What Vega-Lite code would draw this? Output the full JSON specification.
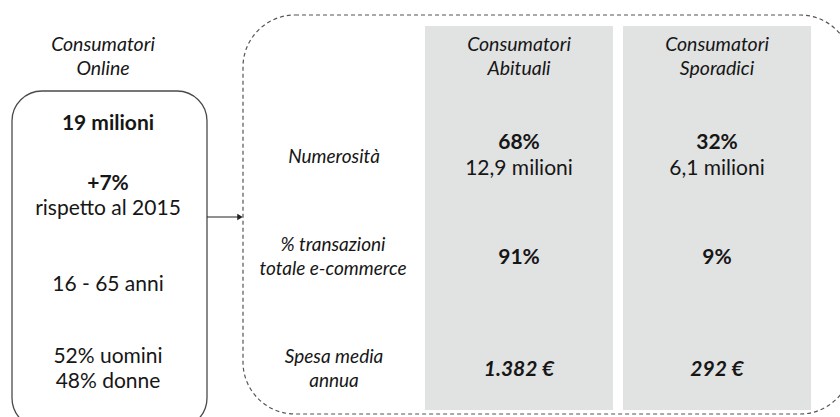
{
  "$schema": "https://vega.github.io/schema/vega-lite/v6.json",
  "width": 840,
  "height": 417,
  "autosize": {"type": "fit", "contains": "padding"},
  "padding": 0,
  "background": "white",
  "view": {"stroke": null},
  "datasets": {
    "panels": [
      {"name": "Abituali", "x1": 425, "x2": 613, "y1": 26, "y2": 410},
      {"name": "Sporadici", "x1": 623, "x2": 811, "y1": 26, "y2": 410}
    ],
    "solidBox": [{"name": "Online", "x1": 12, "x2": 207, "y1": 91, "y2": 428}],
    "dashBox": [{"name": "Segmenti", "x1": 243, "x2": 852, "y1": 15, "y2": 414}],
    "arrow": [{"x1": 207, "x2": 240, "y": 217}],
    "italic": [
      {"x": 103, "y": 45, "t": "Consumatori"},
      {"x": 103, "y": 69, "t": "Online"},
      {"x": 519, "y": 45, "t": "Consumatori"},
      {"x": 519, "y": 69, "t": "Abituali"},
      {"x": 717, "y": 45, "t": "Consumatori"},
      {"x": 717, "y": 69, "t": "Sporadici"}
    ],
    "labels": [
      {"x": 334, "y": 157, "t": "Numerosità"},
      {"x": 333, "y": 245, "t": "% transazioni"},
      {"x": 333, "y": 269, "t": "totale e-commerce"},
      {"x": 334, "y": 357, "t": "Spesa media"},
      {"x": 334, "y": 381, "t": "annua"}
    ],
    "bold": [
      {"x": 108, "y": 124, "t": "19 milioni"},
      {"x": 108, "y": 184, "t": "+7%"},
      {"x": 519, "y": 143, "t": "68%"},
      {"x": 717, "y": 143, "t": "32%"},
      {"x": 519, "y": 258, "t": "91%"},
      {"x": 717, "y": 258, "t": "9%"}
    ],
    "regular": [
      {"x": 108, "y": 209, "t": "rispetto al 2015"},
      {"x": 108, "y": 285, "t": "16 - 65 anni"},
      {"x": 108, "y": 357, "t": "52% uomini"},
      {"x": 108, "y": 382, "t": "48% donne"},
      {"x": 519, "y": 169, "t": "12,9 milioni"},
      {"x": 717, "y": 169, "t": "6,1 milioni"}
    ],
    "boldItalic": [
      {"x": 519, "y": 370, "t": "1.382 €"},
      {"x": 717, "y": 370, "t": "292 €"}
    ]
  },
  "resolve": {"scale": {"x": "shared", "y": "shared"}},
  "layer": [
    {
      "data": {"name": "panels"},
      "mark": {"type": "rect", "color": "#e1e2e2"},
      "encoding": {
        "x": {"field": "x1", "type": "quantitative", "scale": {"domain": [0, 840], "nice": false, "zero": false}, "axis": null},
        "x2": {"field": "x2"},
        "y": {"field": "y1", "type": "quantitative", "scale": {"domain": [0, 417], "nice": false, "zero": false, "reverse": true}, "axis": null},
        "y2": {"field": "y2"}
      }
    },
    {
      "data": {"name": "solidBox"},
      "mark": {"type": "rect", "fill": null, "stroke": "#4a4a4a", "strokeWidth": 1.3, "cornerRadius": 30, "clip": true},
      "encoding": {
        "x": {"field": "x1", "type": "quantitative"},
        "x2": {"field": "x2"},
        "y": {"field": "y1", "type": "quantitative"},
        "y2": {"field": "y2"}
      }
    },
    {
      "data": {"name": "dashBox"},
      "mark": {"type": "rect", "fill": null, "stroke": "#555555", "strokeWidth": 1.2, "strokeDash": [4, 3], "cornerRadius": 52, "clip": true},
      "encoding": {
        "x": {"field": "x1", "type": "quantitative"},
        "x2": {"field": "x2"},
        "y": {"field": "y1", "type": "quantitative"},
        "y2": {"field": "y2"}
      }
    },
    {
      "data": {"name": "arrow"},
      "mark": {"type": "rule", "color": "#222222", "strokeWidth": 1.2},
      "encoding": {
        "x": {"field": "x1", "type": "quantitative"},
        "x2": {"field": "x2"},
        "y": {"field": "y", "type": "quantitative"}
      }
    },
    {
      "data": {"name": "arrow"},
      "mark": {"type": "point", "shape": "triangle-right", "filled": true, "color": "#222222", "size": 40, "opacity": 1},
      "encoding": {
        "x": {"field": "x2", "type": "quantitative"},
        "y": {"field": "y", "type": "quantitative"}
      }
    },
    {
      "data": {"name": "italic"},
      "mark": {"type": "text", "font": "Lato", "fontSize": 19.5, "fontStyle": "italic", "color": "#161616", "baseline": "middle", "align": "center"},
      "encoding": {
        "x": {"field": "x", "type": "quantitative"},
        "y": {"field": "y", "type": "quantitative"},
        "text": {"field": "t"}
      }
    },
    {
      "data": {"name": "labels"},
      "mark": {"type": "text", "font": "Lato", "fontSize": 19, "fontStyle": "italic", "color": "#161616", "baseline": "middle", "align": "center"},
      "encoding": {
        "x": {"field": "x", "type": "quantitative"},
        "y": {"field": "y", "type": "quantitative"},
        "text": {"field": "t"}
      }
    },
    {
      "data": {"name": "bold"},
      "mark": {"type": "text", "font": "Lato", "fontSize": 21, "fontWeight": "bold", "color": "#161616", "baseline": "middle", "align": "center"},
      "encoding": {
        "x": {"field": "x", "type": "quantitative"},
        "y": {"field": "y", "type": "quantitative"},
        "text": {"field": "t"}
      }
    },
    {
      "data": {"name": "regular"},
      "mark": {"type": "text", "font": "Lato", "fontSize": 21, "color": "#161616", "baseline": "middle", "align": "center"},
      "encoding": {
        "x": {"field": "x", "type": "quantitative"},
        "y": {"field": "y", "type": "quantitative"},
        "text": {"field": "t"}
      }
    },
    {
      "data": {"name": "boldItalic"},
      "mark": {"type": "text", "font": "Lato", "fontSize": 21, "fontWeight": "bold", "fontStyle": "italic", "color": "#161616", "baseline": "middle", "align": "center"},
      "encoding": {
        "x": {"field": "x", "type": "quantitative"},
        "y": {"field": "y", "type": "quantitative"},
        "text": {"field": "t"}
      }
    }
  ]
}
